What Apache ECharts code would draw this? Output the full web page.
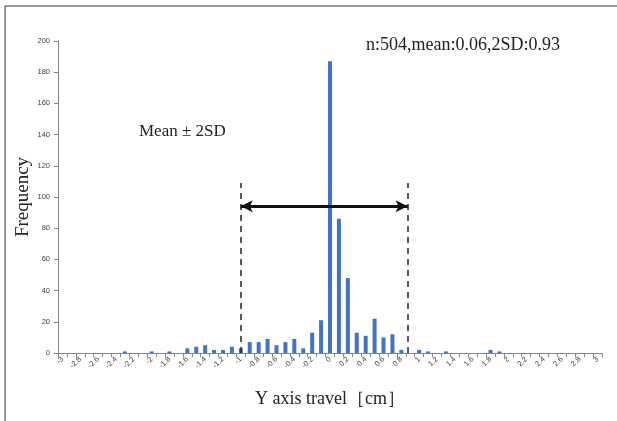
<!DOCTYPE html>
<html>
<head>
<meta charset="utf-8">
<script src="https://cdn.jsdelivr.net/npm/echarts@6/dist/echarts.min.js"></script>
<style>
  html, body { margin: 0; padding: 0; background: #fff; }
  #main { width: 617px; height: 421px; }
</style>
</head>
<body>
<div id="main"></div>
<script>
// bins of Y axis travel (cm)
var categories = ['-3','-2.9','-2.8','-2.7','-2.6','-2.5','-2.4','-2.3','-2.2','-2.1',
  '-2','-1.9','-1.8','-1.7','-1.6','-1.5','-1.4','-1.3','-1.2','-1.1',
  '-1','-0.9','-0.8','-0.7','-0.6','-0.5','-0.4','-0.3','-0.2','-0.1',
  '0','0.1','0.2','0.3','0.4','0.5','0.6','0.7','0.8','0.9',
  '1','1.1','1.2','1.3','1.4','1.5','1.6','1.7','1.8','1.9',
  '2','2.1','2.2','2.3','2.4','2.5','2.6','2.7','2.8','2.9','3'];
var freq = [0,0,0,0,0,0,0,1,0,0,
  1,0,1,0,3,4,5,2,2,4,
  3,7,7,9,5,7,9,3,13,21,
  187,86,48,13,11,22,10,12,2,0,
  2,1,0,1,0,0,0,0,2,1,
  0,0,0,0,0,0,0,0,0,0,0];
// hand drawn range markers (x in cm, y in frequency)
var rangeLeft = -1.0;
var rangeRight = 0.87;
var rangeTop = 109;
var arrowY = 94;
var statsText = 'n:504,mean:0.06,2SD:0.93';
var rangeText = 'Mean \u00b1 2SD';

var myChart = echarts.init(document.getElementById('main'));
var serif = '"Liberation Serif", "DejaVu Serif", serif';
var sans = '"Liberation Sans", Arial, sans-serif';

var option = {
    animation: false,
    backgroundColor: '#fff',
    grid: { left: 58, right: 15, top: 41, bottom: 68 },
    xAxis: [{
        type: 'category',
        data: categories,
        boundaryGap: true,
        axisLine: { lineStyle: { color: '#868686', width: 1 } },
        axisTick: { show: true, interval: 0, length: 4, lineStyle: { color: '#868686' } },
        axisLabel: {
            interval: 1, rotate: 45, fontSize: 7.5, color: '#404040',
            fontFamily: sans, margin: 5
        },
        name: 'Y axis travel\uff3bcm\uff3d',
        nameLocation: 'middle',
        nameGap: 37,
        nameTextStyle: { fontFamily: serif, fontSize: 18, color: '#222' }
    }, {
        type: 'value',
        min: -3.05, max: 3.05,
        show: false
    }],
    yAxis: {
        type: 'value',
        min: 0, max: 200, interval: 20,
        splitLine: { show: false },
        axisLine: { show: true, onZero: false, lineStyle: { color: '#868686' } },
        axisTick: { show: true, length: 4, lineStyle: { color: '#868686' } },
        axisLabel: { fontSize: 7.5, color: '#404040', fontFamily: sans, margin: 8 },
        name: 'Frequency',
        nameLocation: 'middle',
        nameGap: 25,
        nameMoveOverlap: false,
        nameTextStyle: { fontFamily: serif, fontSize: 19, color: '#222' }
    },
    series: [{
        type: 'bar',
        data: freq,
        barWidth: 4,
        itemStyle: { color: '#4472C4' }
    }, {
        type: 'line',
        xAxisIndex: 1,
        data: [],
        silent: true,
        markLine: {
            silent: true,
            animation: false,
            label: { show: false },
            data: [
                [{ coord: [rangeLeft, 0], symbol: 'none', lineStyle: { type: [6, 5], width: 1.5, color: '#222' } },
                 { coord: [rangeLeft, rangeTop], symbol: 'none' }],
                [{ coord: [rangeRight, 0], symbol: 'none', lineStyle: { type: [6, 5], width: 1.5, color: '#222' } },
                 { coord: [rangeRight, rangeTop], symbol: 'none' }],
                [{ coord: [rangeLeft, arrowY], symbol: 'arrow', symbolSize: [9, 12], lineStyle: { type: 'solid', width: 3, color: '#111' } },
                 { coord: [rangeRight, arrowY], symbol: 'arrow', symbolSize: [9, 12] }]
            ]
        }
    }],
    graphic: [{
        type: 'rect',
        shape: { x: 5, y: 6, width: 700, height: 500 },
        style: { fill: 'none', stroke: '#333', lineWidth: 1 },
        silent: true
    }, {
        type: 'text',
        left: 366, top: 36,
        style: { text: statsText, font: '18px ' + serif, fill: '#222' }
    }, {
        type: 'text',
        left: 139, top: 123,
        style: { text: rangeText, font: '17px ' + serif, fill: '#222' }
    }]
};
myChart.setOption(option);
</script>
</body>
</html>
